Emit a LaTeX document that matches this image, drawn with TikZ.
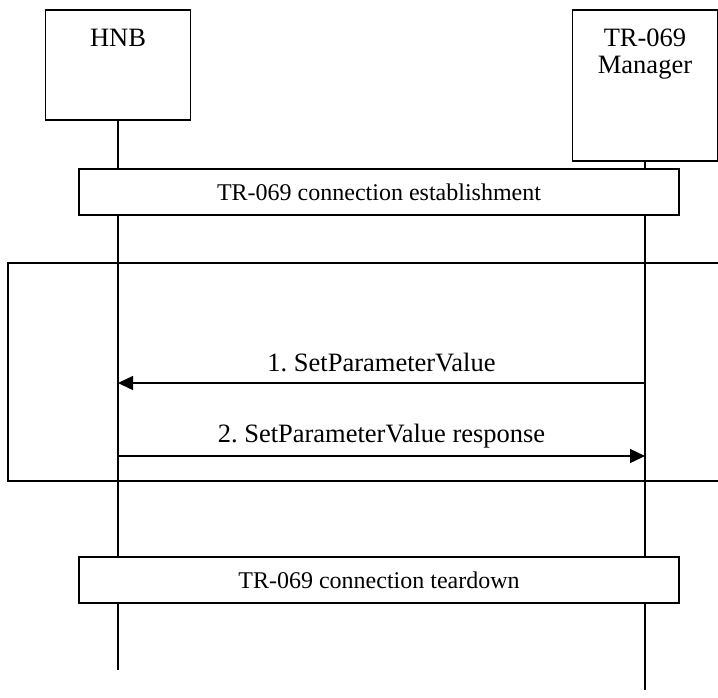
\documentclass[tikz,border=0pt]{standalone}
\usepackage{fontspec}
\setmainfont{Liberation Serif}
\usetikzlibrary{arrows.meta}
\frenchspacing

\begin{document}
\begin{tikzpicture}[x=1pt,y=-1pt,line width=1.4pt]

\useasboundingbox (0,0) rectangle (718,697);

\def\xhnb{118}
\def\xmgr{645}

\tikzset{bigfont/.style={font=\rmfamily\fontsize{26.5}{27}\selectfont, inner sep=0pt}}
\tikzset{entity/.style={draw, minimum width=145pt, inner sep=0pt}}
\tikzset{phase/.style={draw, fill=white, minimum width=600pt, minimum height=46pt, font=\rmfamily\fontsize{24}{26}\selectfont}}
\tikzset{msg/.style={-{Triangle[length=15pt,width=14pt]}}}

% entities
\node[entity, minimum height=110pt] (hnb) at (\xhnb,65) {};
\node[bigfont] (hnbname) at (\xhnb,38) {HNB};

\node[entity, minimum height=151pt] (mgr) at (\xmgr,85.5) {};
\node[bigfont, align=center] (mgrname) at (\xmgr,54) {TR-069\\Manager};

% lifelines
\coordinate (hnbend) at (\xhnb,670);
\coordinate (mgrend) at (\xmgr,690);
\draw (hnb.south) -- (hnbend);
\draw (mgr.south) -- (mgrend);

% connection phases
\node[phase] (setup) at (379,192) {TR-069 connection establishment};
\node[phase] (teardown) at (379,580) {TR-069 connection teardown};

% frame round the messages
\draw (720,263) -| (8,481) -- (720,481);

% messages
\coordinate (m1) at (\xmgr,383);
\coordinate (h1) at (\xhnb,383);
\coordinate (h2) at (\xhnb,456);
\coordinate (m2) at (\xmgr,456);

\draw[msg] (m1) -- node[bigfont, anchor=base, yshift=12pt] (msgone) {1. SetParameterValue} (h1);
\draw[msg] (h2) -- node[bigfont, anchor=base, yshift=14pt] (msgtwo) {2. SetParameterValue response} (m2);

\end{tikzpicture}
\end{document}
